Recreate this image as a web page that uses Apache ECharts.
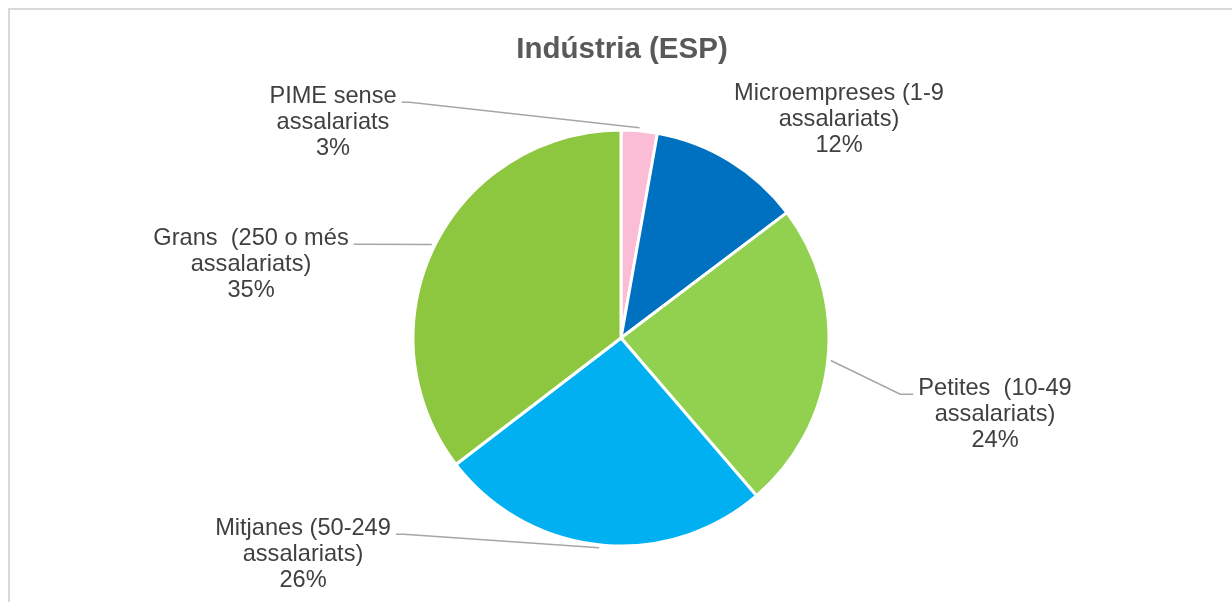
<!DOCTYPE html>
<html>
<head>
<meta charset="utf-8">
<script src="https://cdn.jsdelivr.net/npm/echarts@6/dist/echarts.min.js"></script>
<style>
  html, body { margin: 0; padding: 0; background: #fff; overflow: hidden; }
  #frame { position: absolute; left: 8px; top: 8px; width: 1400px; height: 800px; border: 2px solid #d9d9d9; box-sizing: border-box; }
  #chart { position: absolute; left: 0; top: 0; width: 1232px; height: 602px; }
</style>
</head>
<body>
<div id="frame"></div>
<div id="chart"></div>
<script>
const titleText = 'Indústria (ESP)'
const categories = [
  'PIME sense\nassalariats',
  'Microempreses (1-9\nassalariats)',
  'Petites  (10-49\nassalariats)',
  'Mitjanes (50-249\nassalariats)',
  'Grans  (250 o més\nassalariats)',
]
const values = [2.8, 11.9, 24.0, 25.9, 35.4]
const colors = ['#fbbcd5', '#0070c0', '#92d050', '#00b0f0', '#8dc63f']

// where each label block sits (top centre of the text), layout only
const labelSpots = [[333, 83], [839, 80], [995, 375], [303, 515], [251, 225]]
const showLeader = [true, false, true, true, true]

const labelFont = 23.6
const labelFamily = '"Liberation Sans", Arial, sans-serif'
const lineH = 26.3

const cx = 621
const cy = 338
const radius = 208

// anchura de la primera línea, para saber dónde acaba la línea guía
const measureCtx = document.createElement('canvas').getContext('2d')
measureCtx.font = labelFont + 'px ' + labelFamily
const firstLineWidth = (s) => measureCtx.measureText(s.split('\n')[0]).width

// punto (un poco fuera del borde) en el centro angular de cada porción
const total = values.reduce((a, b) => a + b, 0)
const edgePoint = (i) => {
  const before = values.slice(0, i).reduce((a, b) => a + b, 0)
  const ang = ((before + values[i] / 2) / total) * Math.PI * 2
  const r = radius + 3
  return [cx + r * Math.sin(ang), cy - r * Math.cos(ang)]
}

const chart = echarts.init(document.getElementById('chart'))

chart.setOption({
  backgroundColor: 'transparent',
  animation: false,
  title: {
    text: titleText,
    left: cx - 4,
    top: 30,
    textAlign: 'center',
    textStyle: {
      fontSize: 29.5,
      fontWeight: 'bold',
      color: '#595959',
      fontFamily: labelFamily,
    },
  },
  series: [
    {
      type: 'pie',
      center: [cx, cy],
      radius: radius,
      startAngle: 90,
      clockwise: true,
      avoidLabelOverlap: false,
      percentPrecision: 0,
      itemStyle: {
        borderColor: '#fff',
        borderWidth: 3,
      },
      label: {
        show: true,
        position: 'outside',
        formatter: '{b}\n{d}%',
        color: '#404040',
        fontSize: labelFont,
        fontFamily: labelFamily,
        lineHeight: lineH,
        align: 'center',
      },
      labelLine: {
        show: true,
        lineStyle: { color: '#a6a6a6', width: 1.5 },
      },
      labelLayout: (params) => {
        const i = params.dataIndex
        const [lx, ly] = labelSpots[i]
        const out = { x: lx, y: ly, align: 'center', verticalAlign: 'top' }
        if (showLeader[i]) {
          const half = firstLineWidth(categories[i]) / 2
          const onLeft = lx < cx
          const ex = onLeft ? lx + half + 5 : lx - half - 5
          const ey = ly + lineH / 2 + 6
          const kx = onLeft ? ex + 8 : ex - 13
          out.labelLinePoints = [edgePoint(i), [kx, ey], [ex, ey]]
        }
        return out
      },
      data: categories.map((name, i) => ({
        name,
        value: values[i],
        itemStyle: { color: colors[i] },
        labelLine: { show: showLeader[i] },
      })),
    },
  ],
})
</script>
</body>
</html>
